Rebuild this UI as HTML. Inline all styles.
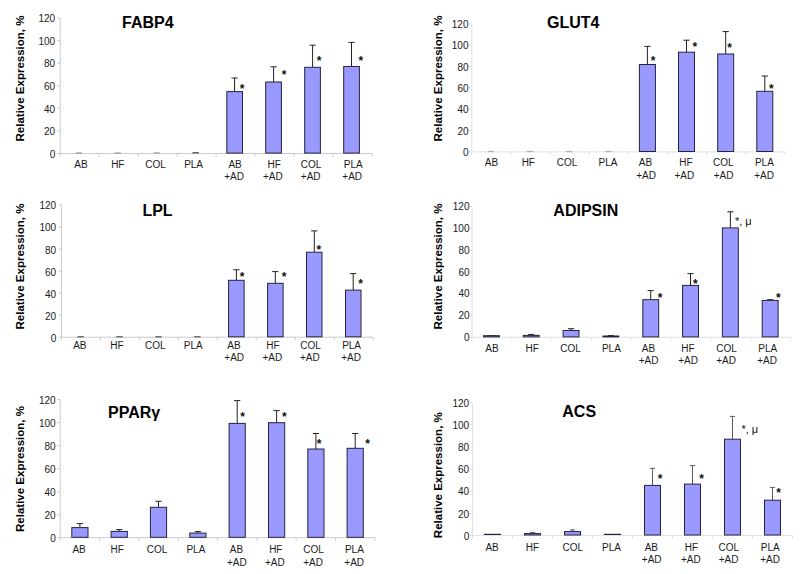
<!DOCTYPE html>
<html lang="en">
<head>
<meta charset="utf-8">
<title>Relative Expression of adipogenic markers</title>
<style>
html,body{margin:0;padding:0;background:#fff;}
svg{display:block;}
text{font-family:"Liberation Sans", Arial, Helvetica, sans-serif;fill:#1a1a1a;}
.tk{font-size:10px;text-anchor:end;}
.cl{font-size:10px;text-anchor:middle;}
.tt{font-size:16px;font-weight:bold;text-anchor:middle;fill:#000;}
.yl{font-size:11.5px;font-weight:bold;text-anchor:middle;fill:#000;}
.st{font-size:12px;font-weight:bold;text-anchor:middle;fill:#111;}
.sm{font-size:11px;text-anchor:middle;fill:#111;}
</style>
</head>
<body>
<svg width="800" height="574" viewBox="0 0 800 574">
<rect width="800" height="574" fill="#ffffff"/>
<g><!-- FABP4 -->
<path d="M60.2 18V153.5H371.9" fill="none" stroke="#cacaca" stroke-width="1"/>
<path d="M57.2 153.5H60.2M57.2 130.9H60.2M57.2 108.3H60.2M57.2 85.8H60.2M57.2 63.2H60.2M57.2 40.6H60.2M57.2 18H60.2M60.2 153.5V156.5M99.2 153.5V156.5M138.1 153.5V156.5M177.1 153.5V156.5M216.1 153.5V156.5M255 153.5V156.5M294 153.5V156.5M332.9 153.5V156.5M371.9 153.5V156.5" fill="none" stroke="#cacaca" stroke-width="1"/>
<text class="tk" x="55.2" y="157.7">0</text>
<text class="tk" x="55.2" y="135.1">20</text>
<text class="tk" x="55.2" y="112.5">40</text>
<text class="tk" x="55.2" y="90">60</text>
<text class="tk" x="55.2" y="67.4">80</text>
<text class="tk" x="55.2" y="44.8">100</text>
<text class="tk" x="55.2" y="22.2">120</text>
<path d="M75.6 153H82" fill="none" stroke="#9a9a9a" stroke-width="1.2"/>
<path d="M114.5 153H120.9" fill="none" stroke="#9a9a9a" stroke-width="1.2"/>
<path d="M153.5 153H159.9" fill="none" stroke="#9a9a9a" stroke-width="1.2"/>
<path d="M192.5 152.8H198.9" fill="none" stroke="#444" stroke-width="1.2"/>
<path d="M234.6 91.6V78M231.5 78H237.7" fill="none" stroke="#222" stroke-width="1"/>
<rect x="226.8" y="91.6" width="15.7" height="61.5" fill="#9999ff" stroke="#24243f" stroke-width="1"/>
<path d="M273.6 82V66.8M270.5 66.8H276.7" fill="none" stroke="#222" stroke-width="1"/>
<rect x="265.7" y="82" width="15.7" height="71.1" fill="#9999ff" stroke="#24243f" stroke-width="1"/>
<path d="M312.6 67.3V45.2M309.5 45.2H315.7" fill="none" stroke="#222" stroke-width="1"/>
<rect x="304.7" y="67.3" width="15.7" height="85.8" fill="#9999ff" stroke="#24243f" stroke-width="1"/>
<path d="M351.5 66.5V42.4M348.4 42.4H354.6" fill="none" stroke="#222" stroke-width="1"/>
<rect x="343.7" y="66.5" width="15.7" height="86.6" fill="#9999ff" stroke="#24243f" stroke-width="1"/>
<text class="cl" x="80.9" y="168">AB</text>
<text class="cl" x="117.8" y="168">HF</text>
<text class="cl" x="155.6" y="168">COL</text>
<text class="cl" x="193.6" y="168">PLA</text>
<text class="cl" x="235.1" y="168">AB</text>
<text class="cl" x="234.1" y="180.3">+AD</text>
<text class="cl" x="274.1" y="168">HF</text>
<text class="cl" x="272.9" y="180.3">+AD</text>
<text class="cl" x="311.1" y="168">COL</text>
<text class="cl" x="310.7" y="180.3">+AD</text>
<text class="cl" x="353.2" y="168">PLA</text>
<text class="cl" x="352.2" y="180.3">+AD</text>
<text class="st" x="242.2" y="93.2">*</text>
<text class="st" x="284" y="79.2">*</text>
<text class="st" x="319" y="65.2">*</text>
<text class="st" x="360.8" y="65.2">*</text>
<text class="tt" x="147.8" y="27.5">FABP4</text>
<text class="yl" transform="translate(24.3 78.5) rotate(-90)">Relative Expression, %</text>
</g>
<g><!-- GLUT4 -->
<path d="M471.8 23.8V151.9H785" fill="none" stroke="#e0e0e0" stroke-width="1"/>
<path d="M468.8 151.9H471.8M468.8 130.6H471.8M468.8 109.2H471.8M468.8 87.9H471.8M468.8 66.5H471.8M468.8 45.2H471.8M468.8 23.8H471.8M471.8 151.9V154.9M510.9 151.9V154.9M550.1 151.9V154.9M589.2 151.9V154.9M628.4 151.9V154.9M667.5 151.9V154.9M706.7 151.9V154.9M745.9 151.9V154.9M785 151.9V154.9" fill="none" stroke="#e0e0e0" stroke-width="1"/>
<text class="tk" x="468.5" y="156.1">0</text>
<text class="tk" x="468.5" y="134.8">20</text>
<text class="tk" x="468.5" y="113.4">40</text>
<text class="tk" x="468.5" y="92.1">60</text>
<text class="tk" x="468.5" y="70.7">80</text>
<text class="tk" x="468.5" y="49.4">100</text>
<text class="tk" x="468.5" y="28">120</text>
<path d="M487.6 151.5H494" fill="none" stroke="#b0b0b0" stroke-width="1.2"/>
<path d="M526.7 151.5H533.1" fill="none" stroke="#b0b0b0" stroke-width="1.2"/>
<path d="M565.9 151.5H572.3" fill="none" stroke="#b0b0b0" stroke-width="1.2"/>
<path d="M605 151.5H611.4" fill="none" stroke="#b0b0b0" stroke-width="1.2"/>
<path d="M647.4 64.5V46.4M644.3 46.4H650.5" fill="none" stroke="#222" stroke-width="1"/>
<rect x="639.4" y="64.5" width="16" height="87" fill="#9999ff" stroke="#24243f" stroke-width="1"/>
<path d="M686.5 52.2V40.2M683.4 40.2H689.6" fill="none" stroke="#222" stroke-width="1"/>
<rect x="678.5" y="52.2" width="16" height="99.3" fill="#9999ff" stroke="#24243f" stroke-width="1"/>
<path d="M725.7 54V31.6M722.6 31.6H728.8" fill="none" stroke="#222" stroke-width="1"/>
<rect x="717.7" y="54" width="16" height="97.5" fill="#9999ff" stroke="#24243f" stroke-width="1"/>
<path d="M764.8 91.3V76M761.7 76H767.9" fill="none" stroke="#222" stroke-width="1"/>
<rect x="756.8" y="91.3" width="16" height="60.2" fill="#9999ff" stroke="#24243f" stroke-width="1"/>
<text class="cl" x="491.4" y="165.7">AB</text>
<text class="cl" x="528.3" y="165.7">HF</text>
<text class="cl" x="567.1" y="165.7">COL</text>
<text class="cl" x="608" y="165.7">PLA</text>
<text class="cl" x="645.4" y="165.7">AB</text>
<text class="cl" x="646" y="178.5">+AD</text>
<text class="cl" x="685.9" y="165.7">HF</text>
<text class="cl" x="684.3" y="178.5">+AD</text>
<text class="cl" x="723.3" y="165.7">COL</text>
<text class="cl" x="723.5" y="178.5">+AD</text>
<text class="cl" x="764.4" y="165.7">PLA</text>
<text class="cl" x="764" y="178.5">+AD</text>
<text class="st" x="653.2" y="65.2">*</text>
<text class="st" x="694.9" y="51.2">*</text>
<text class="st" x="729.7" y="51.5">*</text>
<text class="st" x="771.4" y="93.2">*</text>
<text class="tt" x="573.2" y="27.5">GLUT4</text>
<text class="yl" transform="translate(442 78.5) rotate(-90)">Relative Expression, %</text>
</g>
<g><!-- LPL -->
<path d="M61.5 205V337.2H373.1" fill="none" stroke="#cacaca" stroke-width="1"/>
<path d="M58.5 337.2H61.5M58.5 315.2H61.5M58.5 293.1H61.5M58.5 271.1H61.5M58.5 249.1H61.5M58.5 227H61.5M58.5 205H61.5M61.5 337.2V340.2M100.5 337.2V340.2M139.4 337.2V340.2M178.4 337.2V340.2M217.3 337.2V340.2M256.2 337.2V340.2M295.2 337.2V340.2M334.2 337.2V340.2M373.1 337.2V340.2" fill="none" stroke="#cacaca" stroke-width="1"/>
<text class="tk" x="56.2" y="341.6">0</text>
<text class="tk" x="56.2" y="319.6">20</text>
<text class="tk" x="56.2" y="297.5">40</text>
<text class="tk" x="56.2" y="275.5">60</text>
<text class="tk" x="56.2" y="253.5">80</text>
<text class="tk" x="56.2" y="231.4">100</text>
<text class="tk" x="56.2" y="209.4">120</text>
<path d="M77.4 336.8H83.8" fill="none" stroke="#555" stroke-width="1.2"/>
<path d="M116.3 336.8H122.7" fill="none" stroke="#555" stroke-width="1.2"/>
<path d="M155.3 336.8H161.7" fill="none" stroke="#555" stroke-width="1.2"/>
<path d="M194.2 336.8H200.6" fill="none" stroke="#555" stroke-width="1.2"/>
<path d="M236.4 280.3V269.8M233.3 269.8H239.5" fill="none" stroke="#222" stroke-width="1"/>
<rect x="228.6" y="280.3" width="15.5" height="56.5" fill="#9999ff" stroke="#24243f" stroke-width="1"/>
<path d="M275.3 283.3V271.6M272.2 271.6H278.4" fill="none" stroke="#222" stroke-width="1"/>
<rect x="267.6" y="283.3" width="15.5" height="53.5" fill="#9999ff" stroke="#24243f" stroke-width="1"/>
<path d="M314.3 252.2V230.9M311.2 230.9H317.4" fill="none" stroke="#222" stroke-width="1"/>
<rect x="306.5" y="252.2" width="15.5" height="84.6" fill="#9999ff" stroke="#24243f" stroke-width="1"/>
<path d="M353.2 290.1V273.6M350.1 273.6H356.3" fill="none" stroke="#222" stroke-width="1"/>
<rect x="345.5" y="290.1" width="15.5" height="46.7" fill="#9999ff" stroke="#24243f" stroke-width="1"/>
<text class="cl" x="79.8" y="349">AB</text>
<text class="cl" x="116.9" y="349">HF</text>
<text class="cl" x="155.3" y="349">COL</text>
<text class="cl" x="193.2" y="349">PLA</text>
<text class="cl" x="234" y="349">AB</text>
<text class="cl" x="234.2" y="361">+AD</text>
<text class="cl" x="272.9" y="349">HF</text>
<text class="cl" x="272.3" y="361">+AD</text>
<text class="cl" x="310.5" y="349">COL</text>
<text class="cl" x="309.9" y="361">+AD</text>
<text class="cl" x="351.6" y="349">PLA</text>
<text class="cl" x="351" y="361">+AD</text>
<text class="st" x="242.2" y="281.2">*</text>
<text class="st" x="284.1" y="281.2">*</text>
<text class="st" x="318.9" y="253.5">*</text>
<text class="st" x="360.6" y="288.2">*</text>
<text class="tt" x="157.5" y="215.7">LPL</text>
<text class="yl" transform="translate(24.3 266.5) rotate(-90)">Relative Expression, %</text>
</g>
<g><!-- ADIPSIN -->
<path d="M472 206.8V337.3H790.6" fill="none" stroke="#e0e0e0" stroke-width="1"/>
<path d="M469 337.3H472M469 315.6H472M469 293.8H472M469 272.1H472M469 250.3H472M469 228.6H472M469 206.8H472M472 337.3V340.3M511.8 337.3V340.3M551.6 337.3V340.3M591.5 337.3V340.3M631.3 337.3V340.3M671.1 337.3V340.3M711 337.3V340.3M750.8 337.3V340.3M790.6 337.3V340.3" fill="none" stroke="#e0e0e0" stroke-width="1"/>
<text class="tk" x="469.5" y="340.9">0</text>
<text class="tk" x="469.5" y="319.2">20</text>
<text class="tk" x="469.5" y="297.4">40</text>
<text class="tk" x="469.5" y="275.7">60</text>
<text class="tk" x="469.5" y="253.9">80</text>
<text class="tk" x="469.5" y="232.2">100</text>
<text class="tk" x="469.5" y="210.4">120</text>
<path d="M488.3 335.7H494.5" fill="none" stroke="#222" stroke-width="1"/>
<rect x="483.5" y="335.7" width="15.9" height="1.2" fill="#9999ff" stroke="#24243f" stroke-width="1"/>
<path d="M531.2 335.4V334.4M528.1 334.4H534.3" fill="none" stroke="#222" stroke-width="1"/>
<rect x="523.3" y="335.4" width="15.9" height="1.5" fill="#9999ff" stroke="#24243f" stroke-width="1"/>
<path d="M571.1 330.5V328.7M568 328.7H574.2" fill="none" stroke="#222" stroke-width="1"/>
<rect x="563.1" y="330.5" width="15.9" height="6.4" fill="#9999ff" stroke="#24243f" stroke-width="1"/>
<path d="M610.9 336V335.6M607.8 335.6H614" fill="none" stroke="#222" stroke-width="1"/>
<rect x="602.9" y="336" width="15.9" height="0.9" fill="#9999ff" stroke="#24243f" stroke-width="1"/>
<path d="M650.7 299.7V290.6M647.6 290.6H653.8" fill="none" stroke="#222" stroke-width="1"/>
<rect x="642.8" y="299.7" width="15.9" height="37.2" fill="#9999ff" stroke="#24243f" stroke-width="1"/>
<path d="M690.5 285.4V273.6M687.4 273.6H693.6" fill="none" stroke="#222" stroke-width="1"/>
<rect x="682.6" y="285.4" width="15.9" height="51.5" fill="#9999ff" stroke="#24243f" stroke-width="1"/>
<path d="M730.4 227.9V211.8M727.3 211.8H733.5" fill="none" stroke="#222" stroke-width="1"/>
<rect x="722.4" y="227.9" width="15.9" height="109" fill="#9999ff" stroke="#24243f" stroke-width="1"/>
<path d="M770.2 300.4V299.7M767.1 299.7H773.3" fill="none" stroke="#222" stroke-width="1"/>
<rect x="762.2" y="300.4" width="15.9" height="36.5" fill="#9999ff" stroke="#24243f" stroke-width="1"/>
<text class="cl" x="491.9" y="352">AB</text>
<text class="cl" x="532.1" y="352">HF</text>
<text class="cl" x="570.6" y="352">COL</text>
<text class="cl" x="611.4" y="352">PLA</text>
<text class="cl" x="648.4" y="352">AB</text>
<text class="cl" x="648.6" y="364.2">+AD</text>
<text class="cl" x="688" y="352">HF</text>
<text class="cl" x="688" y="364.2">+AD</text>
<text class="cl" x="726.5" y="352">COL</text>
<text class="cl" x="726.1" y="364.2">+AD</text>
<text class="cl" x="767.7" y="352">PLA</text>
<text class="cl" x="767.1" y="364.2">+AD</text>
<text class="st" x="660.2" y="301.7">*</text>
<text class="st" x="695.4" y="287.7">*</text>
<text class="sm" x="743.3" y="225">*, μ</text>
<text class="st" x="778.4" y="301.7">*</text>
<text class="tt" x="585.8" y="215.7">ADIPSIN</text>
<text class="yl" transform="translate(442 266.5) rotate(-90)">Relative Expression, %</text>
</g>
<g><!-- PPARγ -->
<path d="M60.2 399.6V537.7H374.9" fill="none" stroke="#cacaca" stroke-width="1"/>
<path d="M57.2 537.7H60.2M57.2 514.7H60.2M57.2 491.7H60.2M57.2 468.7H60.2M57.2 445.6H60.2M57.2 422.6H60.2M57.2 399.6H60.2M60.2 537.7V540.7M99.5 537.7V540.7M138.9 537.7V540.7M178.2 537.7V540.7M217.6 537.7V540.7M256.9 537.7V540.7M296.2 537.7V540.7M335.6 537.7V540.7M374.9 537.7V540.7" fill="none" stroke="#cacaca" stroke-width="1"/>
<text class="tk" x="55.7" y="542.1">0</text>
<text class="tk" x="55.7" y="519.1">20</text>
<text class="tk" x="55.7" y="496.1">40</text>
<text class="tk" x="55.7" y="473.1">60</text>
<text class="tk" x="55.7" y="450">80</text>
<text class="tk" x="55.7" y="427">100</text>
<text class="tk" x="55.7" y="404">120</text>
<path d="M79.9 527.6V523.6M76.8 523.6H83" fill="none" stroke="#222" stroke-width="1"/>
<rect x="71.8" y="527.6" width="16.2" height="9.7" fill="#9999ff" stroke="#24243f" stroke-width="1"/>
<path d="M119.2 531.4V529.6M116.1 529.6H122.3" fill="none" stroke="#222" stroke-width="1"/>
<rect x="111.1" y="531.4" width="16.2" height="5.9" fill="#9999ff" stroke="#24243f" stroke-width="1"/>
<path d="M158.5 507.3V501.3M155.4 501.3H161.6" fill="none" stroke="#222" stroke-width="1"/>
<rect x="150.4" y="507.3" width="16.2" height="30" fill="#9999ff" stroke="#24243f" stroke-width="1"/>
<path d="M197.9 533.1V531.6M194.8 531.6H201" fill="none" stroke="#222" stroke-width="1"/>
<rect x="189.8" y="533.1" width="16.2" height="4.2" fill="#9999ff" stroke="#24243f" stroke-width="1"/>
<path d="M237.2 423.4V400.6M234.1 400.6H240.3" fill="none" stroke="#222" stroke-width="1"/>
<rect x="229.1" y="423.4" width="16.2" height="113.9" fill="#9999ff" stroke="#24243f" stroke-width="1"/>
<path d="M276.6 422.7V410.6M273.5 410.6H279.7" fill="none" stroke="#222" stroke-width="1"/>
<rect x="268.5" y="422.7" width="16.2" height="114.6" fill="#9999ff" stroke="#24243f" stroke-width="1"/>
<path d="M315.9 449V433.5M312.8 433.5H319" fill="none" stroke="#222" stroke-width="1"/>
<rect x="307.8" y="449" width="16.2" height="88.3" fill="#9999ff" stroke="#24243f" stroke-width="1"/>
<path d="M355.2 448.3V433.5M352.1 433.5H358.3" fill="none" stroke="#222" stroke-width="1"/>
<rect x="347.1" y="448.3" width="16.2" height="89" fill="#9999ff" stroke="#24243f" stroke-width="1"/>
<text class="cl" x="79.1" y="552.8">AB</text>
<text class="cl" x="117.2" y="552.8">HF</text>
<text class="cl" x="157.1" y="552.8">COL</text>
<text class="cl" x="195.9" y="552.8">PLA</text>
<text class="cl" x="236.4" y="552.8">AB</text>
<text class="cl" x="236.8" y="565.6">+AD</text>
<text class="cl" x="275.8" y="552.8">HF</text>
<text class="cl" x="274.8" y="565.6">+AD</text>
<text class="cl" x="313.5" y="552.8">COL</text>
<text class="cl" x="313.1" y="565.6">+AD</text>
<text class="cl" x="354.4" y="552.8">PLA</text>
<text class="cl" x="354.2" y="565.6">+AD</text>
<text class="st" x="242.7" y="420.5">*</text>
<text class="st" x="284.3" y="420.5">*</text>
<text class="st" x="319.2" y="448.1">*</text>
<text class="st" x="367.6" y="448.1">*</text>
<text class="tt" x="134.1" y="418.2">PPARγ</text>
<text class="yl" transform="translate(24.3 469) rotate(-90)">Relative Expression, %</text>
</g>
<g><!-- ACS -->
<path d="M472.5 402.6V535.4H792.5" fill="none" stroke="#e0e0e0" stroke-width="1"/>
<path d="M469.5 535.4H472.5M469.5 513.3H472.5M469.5 491.1H472.5M469.5 469H472.5M469.5 446.9H472.5M469.5 424.7H472.5M469.5 402.6H472.5M472.5 535.4V538.4M512.5 535.4V538.4M552.5 535.4V538.4M592.5 535.4V538.4M632.5 535.4V538.4M672.5 535.4V538.4M712.5 535.4V538.4M752.5 535.4V538.4M792.5 535.4V538.4" fill="none" stroke="#e0e0e0" stroke-width="1"/>
<text class="tk" x="469.2" y="539.6">0</text>
<text class="tk" x="469.2" y="517.5">20</text>
<text class="tk" x="469.2" y="495.3">40</text>
<text class="tk" x="469.2" y="473.2">60</text>
<text class="tk" x="469.2" y="451.1">80</text>
<text class="tk" x="469.2" y="428.9">100</text>
<text class="tk" x="469.2" y="406.8">120</text>
<path d="M483.9 534.4H501.1" fill="none" stroke="#24243f" stroke-width="1.2"/>
<path d="M532.5 533.6V532.4M529.9 532.4H535.1" fill="none" stroke="#5a5a5a" stroke-width="1"/>
<rect x="524.5" y="533.6" width="16" height="1.4" fill="#9999ff" stroke="#24243f" stroke-width="1"/>
<path d="M572.5 531.6V529.9M569.9 529.9H575.1" fill="none" stroke="#5a5a5a" stroke-width="1"/>
<rect x="564.5" y="531.6" width="16" height="3.4" fill="#9999ff" stroke="#24243f" stroke-width="1"/>
<path d="M603.9 534.4H621.1" fill="none" stroke="#24243f" stroke-width="1.2"/>
<path d="M652.5 485.4V468.3M649.9 468.3H655.1" fill="none" stroke="#5a5a5a" stroke-width="1"/>
<rect x="644.5" y="485.4" width="16" height="49.6" fill="#9999ff" stroke="#24243f" stroke-width="1"/>
<path d="M692.5 484.1V465.6M689.9 465.6H695.1" fill="none" stroke="#5a5a5a" stroke-width="1"/>
<rect x="684.5" y="484.1" width="16" height="50.9" fill="#9999ff" stroke="#24243f" stroke-width="1"/>
<path d="M732.5 439.2V416.4M729.9 416.4H735.1" fill="none" stroke="#5a5a5a" stroke-width="1"/>
<rect x="724.5" y="439.2" width="16" height="95.8" fill="#9999ff" stroke="#24243f" stroke-width="1"/>
<path d="M772.5 500.2V487.4M769.9 487.4H775.1" fill="none" stroke="#5a5a5a" stroke-width="1"/>
<rect x="764.5" y="500.2" width="16" height="34.8" fill="#9999ff" stroke="#24243f" stroke-width="1"/>
<text class="cl" x="492.1" y="551.1">AB</text>
<text class="cl" x="532.5" y="551.1">HF</text>
<text class="cl" x="572.9" y="551.1">COL</text>
<text class="cl" x="611.5" y="551.1">PLA</text>
<text class="cl" x="651.3" y="551.1">AB</text>
<text class="cl" x="651.7" y="563.4">+AD</text>
<text class="cl" x="691.5" y="551.1">HF</text>
<text class="cl" x="690.9" y="563.4">+AD</text>
<text class="cl" x="728.9" y="551.1">COL</text>
<text class="cl" x="728.5" y="563.4">+AD</text>
<text class="cl" x="770.3" y="551.1">PLA</text>
<text class="cl" x="770.1" y="563.4">+AD</text>
<text class="st" x="660.2" y="483.3">*</text>
<text class="st" x="701.6" y="483.3">*</text>
<text class="sm" x="749.8" y="433.2">*, μ</text>
<text class="st" x="778.7" y="497.1">*</text>
<text class="tt" x="579.2" y="417">ACS</text>
<text class="yl" transform="translate(442 475.2) rotate(-90)">Relative Expression, %</text>
</g>
</svg>
</body>
</html>
